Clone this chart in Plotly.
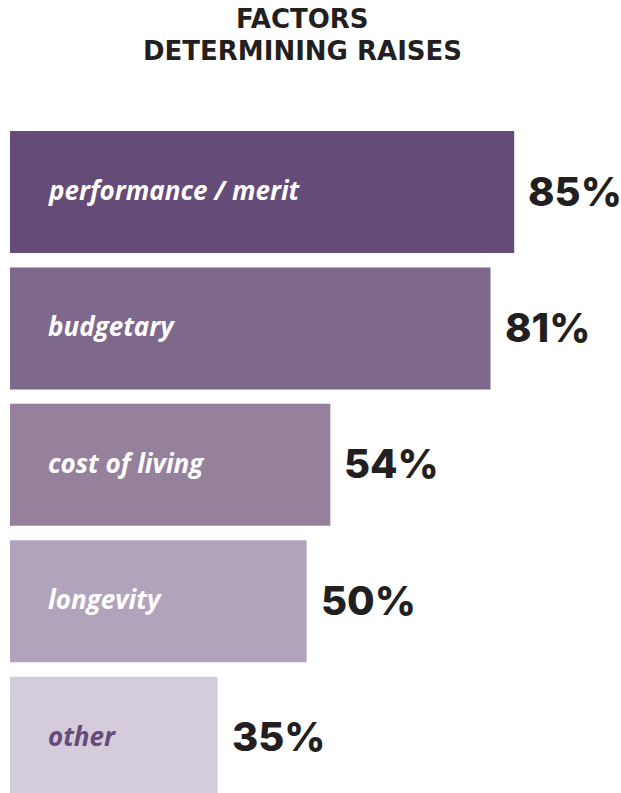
import plotly.graph_objects as go

categories = ["performance / merit", "budgetary", "cost of living", "longevity", "other"]
values = [85, 81, 54, 50, 35]
value_labels = ["85%", "81%", "54%", "50%", "35%"]
bar_colors = ["#654b78", "#7e688c", "#96819d", "#b2a3bc", "#d4cbdb"]
label_colors = ["#ffffff", "#ffffff", "#ffffff", "#ffffff", "#654b78"]
title_lines = ["FACTORS", "DETERMINING RAISES"]

H, T = 793, 100
plot_h = H - T

fig = go.Figure()
fig.add_trace(go.Bar(
    x=values, y=categories, orientation="h",
    marker=dict(color=bar_colors, line=dict(width=0)),
    hoverinfo="skip", showlegend=False,
))

annotations = []
for cat, v, lab, lc in zip(categories, values, value_labels, label_colors):
    annotations.append(dict(
        x=0, y=cat, xref="x", yref="y", xanchor="left", yanchor="middle",
        xshift=36, yshift=2, text=cat, showarrow=False,
        font=dict(family="Open Sans", size=26, color=lc, weight="bold", style="italic"),
    ))
    annotations.append(dict(
        x=v, y=cat, xref="x", yref="y", xanchor="left", yanchor="middle",
        xshift=12, yshift=1, text=lab, showarrow=False,
        font=dict(family="Inter", size=40, color="#231f20", weight=800),
    ))

for line, py in zip(title_lines, [19, 51]):
    annotations.append(dict(
        x=0.478, y=(H - py) / plot_h, xref="paper", yref="paper",
        xanchor="center", yanchor="middle", text=line, showarrow=False,
        font=dict(family="DejaVu Sans", size=26, color="#231f20", weight="bold"),
    ))

fig.update_layout(
    width=621, height=H,
    margin=dict(l=10, r=0, t=T, b=0),
    paper_bgcolor="white", plot_bgcolor="white",
    bargap=0.106,
    xaxis=dict(range=[0, 103.0], visible=False, fixedrange=True),
    yaxis=dict(range=[4.406, -0.6745], visible=False, fixedrange=True,
               categoryorder="array", categoryarray=categories),
    annotations=annotations,
)

fig.write_html("out.html")
